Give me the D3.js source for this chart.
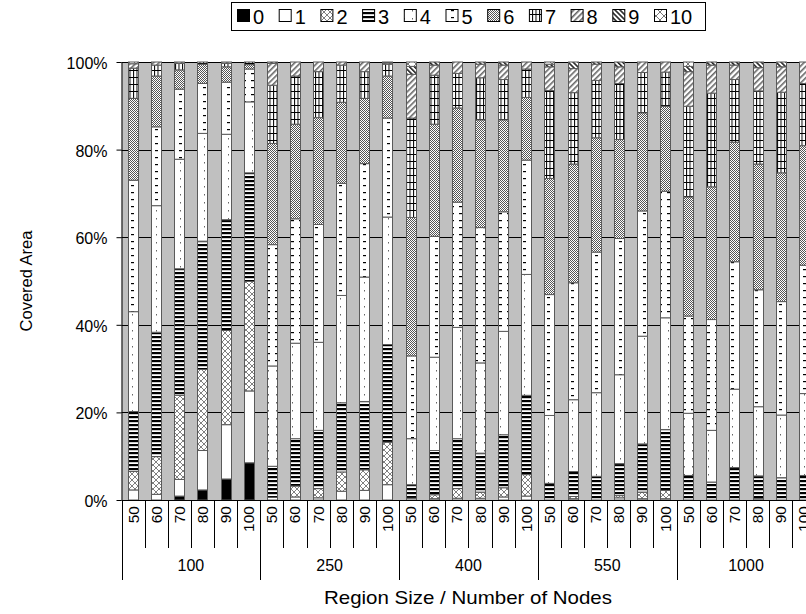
<!DOCTYPE html>
<html><head><meta charset="utf-8">
<script src="https://cdn.jsdelivr.net/npm/d3@7"></script>
<style>body{margin:0;background:#fff}svg{display:block}text{font-family:"Liberation Sans",Arial,sans-serif;fill:#000}</style>
</head><body><svg id="c" width="806" height="614"></svg>
<script>
const groups = ["100","250","400","550","1000"];
const subCats = ["50","60","70","80","90","100"];
const keys = ["0","1","2","3","4","5","6","7","8","9","10"];
const yTicks = ["0%","20%","40%","60%","80%","100%"];
const s0 = [0,0,0.9,2.3,4.8,8.5, 0,0,0,0,0,0, 0,0,0,0,0,0, 0,0,0,0,0,0, 0,0,0,0,0,0];
const s1 = [2.3,1.3,3.8,9.0,12.4,16.4, 0.6,0.7,0.5,2.0,2.2,3.5, 0.4,0.3,0.4,0.4,0.7,0.9, 0,0.3,0,0.5,0.3,0.3, 0,0,0,0.3,0,0];
const s2 = [4.2,8.6,19.2,18.5,21.5,25.0, 0,2.5,2.1,4.4,4.7,9.7, 0,0.9,2.2,1.4,2.1,4.9, 0,0.5,0,0.5,1.5,1.9, 0,0,0,0,0,0];
const s3 = [13.7,28.4,28.9,29.3,25.3,24.8, 7.1,10.8,13.3,15.8,15.6,22.3, 3.1,10.1,11.4,8.9,12.1,18.1, 3.8,5.7,5.4,7.3,11.0,13.9, 5.6,4.1,7.4,5.2,5.1,5.6];
const s4 = [22.8,28.9,25.0,24.6,19.5,16.2, 22.9,21.8,20.1,24.5,28.4,29.1, 10.5,21.3,25.4,20.6,23.6,27.6, 15.5,16.4,19.1,20.3,24.6,25.5, 14.2,11.8,17.9,15.8,14.3,18.7];
const s5 = [30.0,18.0,16.0,11.4,11.9,7.5, 27.7,28.4,26.9,25.6,25.9,22.6, 18.9,27.6,28.6,30.9,27.3,26.1, 27.6,26.7,32.1,31.1,28.6,28.9, 22.2,25.3,29.1,26.7,25.9,29.3];
const s6 = [18.7,11.6,4.4,4.4,3.5,1.0, 23.1,21.6,24.4,18.5,14.9,9.6, 31.6,25.6,21.5,24.6,21.0,14.3, 26.5,27.1,26.1,22.6,22.4,19.4, 27.2,30.3,27.3,28.7,29.4,27.3];
const s7 = [6.9,2.5,1.5,0.5,0.8,0.6, 13.3,11.0,10.5,8.5,6.1,2.7, 22.7,11.2,7.9,9.6,9.2,6.5, 20.1,16.3,13.1,12.8,9.2,7.8, 20.7,21.4,14.3,16.7,18.4,14.2];
const s8 = [1.0,0.7,0.3,0,0.3,0, 5.0,3.2,2.2,0.7,2.2,0.3, 10.0,2.3,2.6,3.1,3.3,1.6, 5.4,5.5,3.7,3.8,2.4,2.3, 7.9,6.4,3.3,5.3,5.8,4.9];
const s9 = [0,0,0,0,0,0, 0.3,0,0,0,0,0, 1.8,0.7,0,0.5,0.7,0, 0.6,1.5,0.5,1.1,0,0, 1.2,0.7,0.7,1.3,1.1,0];
const s10 = [0.4,0,0,0,0,0, 0,0,0,0,0,0.2, 1.0,0,0,0,0,0, 0.5,0,0,0,0,0, 1.0,0,0,0,0,0];
const series = [s0,s1,s2,s3,s4,s5,s6,s7,s8,s9,s10];

const rows = [];
groups.forEach((g,gi)=>subCats.forEach((c,ci)=>{
  const i = gi*subCats.length+ci;
  const r = {id:i, group:g, cat:c};
  keys.forEach((k,ki)=>r[k]=series[ki][i]);
  rows.push(r);
}));

const svg = d3.select("#c");
const L = 121.5, T = 62, B = 500, step = 23.13, barW = 10;
const R = L + step*rows.length;
const x = d3.scaleBand().domain(rows.map(d=>d.id)).range([L,R]).padding(0);
const y = d3.scaleLinear().domain([0,1]).range([B,T]);

// patterns
const defs = svg.append("defs");
function pat(id,w,h,build,transform){
  const p = defs.append("pattern").attr("id",id).attr("patternUnits","userSpaceOnUse").attr("width",w).attr("height",h);
  if(transform) p.attr("patternTransform",transform);
  p.append("rect").attr("width",w).attr("height",h).attr("fill","#fff");
  build(p);
}
pat("p2",6,6,p=>{p.append("path").attr("d","M0,0L6,6M6,0L0,6").attr("stroke","#808080").attr("stroke-width",1);});
pat("p3",4,4,p=>{p.append("rect").attr("y",0).attr("width",4).attr("height",2.2).attr("fill","#000");});
pat("p4",8,8,p=>{p.append("rect").attr("x",4).attr("y",2).attr("width",1).attr("height",1.5).attr("fill","#666");});
pat("p5",8,7,p=>{p.append("rect").attr("x",3).attr("y",3).attr("width",3).attr("height",1.2).attr("fill","#000");});
pat("p6",2,2,p=>{p.append("rect").attr("width",1).attr("height",1).attr("fill","#555");p.append("rect").attr("x",1).attr("y",1).attr("width",1).attr("height",1).attr("fill","#555");});
pat("p7",3.5,7,p=>{p.append("rect").attr("width",1).attr("height",7).attr("fill","#000");p.append("rect").attr("width",3.5).attr("height",1).attr("fill","#000");});
pat("p8",4,4,p=>{p.append("rect").attr("width",1.6).attr("height",4).attr("fill","#666");},"rotate(45)");
pat("p9",3.5,3.5,p=>{p.append("rect").attr("width",1.6).attr("height",3.5).attr("fill","#222");},"rotate(-45)");
pat("p10",8,8,p=>{p.append("path").attr("d","M0,0L8,8M8,0L0,8").attr("stroke","#777").attr("stroke-width",1);});
const fills = ["#000","#fff","url(#p2)","url(#p3)","url(#p4)","url(#p5)","url(#p6)","url(#p7)","url(#p8)","url(#p9)","url(#p10)"];

// plot background
svg.append("rect").attr("x",L).attr("y",T).attr("width",R-L).attr("height",B-T).attr("fill","#c0c0c0");
// gridlines
svg.append("g").selectAll("line").data(d3.range(1,6).map(i=>i/5)).join("line")
  .attr("x1",L).attr("x2",R).attr("y1",d=>Math.round(y(d))+0.5).attr("y2",d=>Math.round(y(d))+0.5)
  .attr("stroke","#000").attr("stroke-width",1);

// bars
const stack = d3.stack().keys(keys).offset(d3.stackOffsetExpand)(rows);
svg.append("g").selectAll("g").data(stack).join("g")
  .attr("fill",(d,i)=>fills[i])
  .selectAll("rect").data(d=>d.filter(s=>s[1]-s[0]>0)).join("rect")
  .attr("x",s=>Math.round(x(s.data.id)+(step-barW)/2)+0.5)
  .attr("width",barW)
  .attr("y",s=>y(s[1]))
  .attr("height",s=>y(s[0])-y(s[1]))
  .attr("stroke","#5a5a5a").attr("stroke-width",1);

// y axis
const yAxis = d3.axisLeft(y).tickValues(d3.range(0,6).map(i=>i/5)).tickFormat((d,i)=>yTicks[i]).tickSize(5).tickSizeOuter(0);
const ya = svg.append("g").attr("transform",`translate(${L},0)`).call(yAxis);
ya.select(".domain").attr("stroke","#000");
ya.selectAll("text").attr("font-size",16).attr("x",-14).attr("dy","0.4em").style("font-family","'Liberation Sans',Arial");

// x axis baseline
svg.append("line").attr("x1",L).attr("x2",R).attr("y1",B+0.5).attr("y2",B+0.5).attr("stroke","#000");
// sub separators
const xa = svg.append("g");
rows.forEach((d,i)=>{
  const xs = Math.round(x(d.id))+0.5;
  const isGroup = i % subCats.length === 0;
  xa.append("line").attr("x1",xs).attr("x2",xs).attr("y1",B).attr("y2",isGroup?580:548).attr("stroke","#000");
});
xa.append("line").attr("x1",Math.round(R)+0.5).attr("x2",Math.round(R)+0.5).attr("y1",B).attr("y2",580).attr("stroke","#000");
// rotated category labels
xa.selectAll("text.sub").data(rows).join("text").attr("class","sub")
  .attr("transform",d=>`translate(${x(d.id)+step/2+5.5},506) rotate(-90)`)
  .attr("text-anchor","end").attr("font-size",15.5).text(d=>d.cat);
// group labels
xa.selectAll("text.grp").data(groups).join("text").attr("class","grp")
  .attr("x",(d,i)=>L+step*subCats.length*(i+0.5)).attr("y",571)
  .attr("text-anchor","middle").attr("font-size",16).text(d=>d);

// axis titles
svg.append("text").attr("x",468).attr("y",604).attr("text-anchor","middle").attr("font-size",19)
  .attr("textLength",288).attr("lengthAdjust","spacingAndGlyphs").text("Region Size / Number of Nodes");
svg.append("text").attr("transform","translate(32,281) rotate(-90)").attr("text-anchor","middle").attr("font-size",16.5).text("Covered Area");

// legend
const lg = svg.append("g");
lg.append("rect").attr("x",231.5).attr("y",2.5).attr("width",474).attr("height",28).attr("fill","#fff").attr("stroke","#000");
keys.forEach((k,i)=>{
  const lx = 237 + i*41.7;
  lg.append("rect").attr("x",lx+0.5).attr("y",9.5).attr("width",12).attr("height",12).attr("fill",fills[i]).attr("stroke","#000");
  lg.append("text").attr("x",lx+16).attr("y",23.5).attr("font-size",20).text(k);
});
</script></body></html>
